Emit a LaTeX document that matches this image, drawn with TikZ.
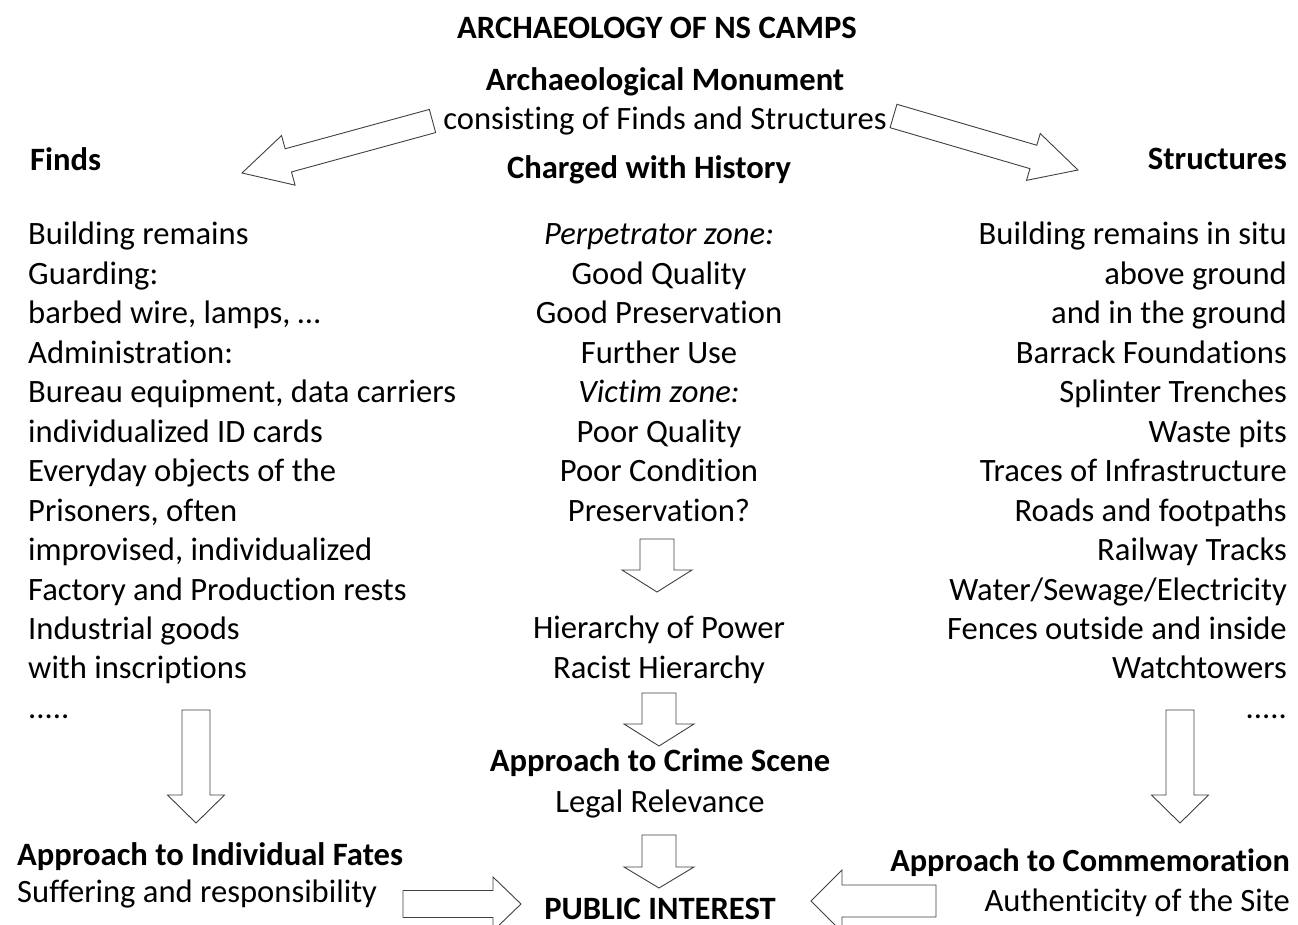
\documentclass[tikz,border=0pt]{standalone}
\usepackage{fontspec}
\setmainfont{Carlito}[Ligatures={NoCommon,NoRare,NoContextual}]
\usetikzlibrary{calc}

\tikzset{
  body/.style={font=\fontsize{32.6}{39}\selectfont, inner sep=0pt},
  head/.style={font=\fontsize{32.6}{39}\selectfont\bfseries, inner sep=0pt},
  blockline/.style={draw=black!75, fill=white, line width=0.9pt, line join=miter}
}

% block arrow: from, to, half shaft, half head, head length
\newcommand{\blockarrow}[5]{%
  \coordinate (hb) at ($(#2)!#5!(#1)$);
  \draw[blockline] ($(#1)!#3!90:(#2)$) -- ($(hb)!#3!90:(#2)$) -- ($(hb)!#4!90:(#2)$)
    -- (#2) -- ($(hb)!#4!-90:(#2)$) -- ($(hb)!#3!-90:(#2)$) -- ($(#1)!#3!-90:(#2)$) -- cycle;}

\begin{document}
\begin{tikzpicture}[x=1pt,y=-1pt]
  \useasboundingbox (0,0) rectangle (1298,925);

  % top
  \node[head, anchor=base] (title) at (657,39) {ARCHAEOLOGY OF NS CAMPS};
  \node[head, anchor=base] (monument) at (665,91) {Archaeological Monument};
  \node[body, anchor=base] (consist) at (665,130) {consisting of Finds and Structures};
  \node[head, anchor=base] (charged) at (649,179) {Charged with History};
  \node[head, anchor=base west] (finds) at (30,171) {Finds};
  \node[head, anchor=base east] (structs) at (1287,170) {Structures};

  % left column
  \foreach \txt [count=\i from 0] in {Building remains, Guarding:, {barbed wire, lamps, …},
      Administration:, {Bureau equipment, data carriers}, individualized ID cards,
      Everyday objects of the, {Prisoners, often}, {improvised, individualized},
      Factory and Production rests, Industrial goods, with inscriptions}
    \node[body, anchor=base west] (fd-\i) at (28,245+39.45*\i) {\txt};
  \node[body, anchor=base west] (fd-dots) at (28,718.4) {.....};

  % middle column
  \foreach \txt [count=\i from 0] in {\textit{Perpetrator zone:}, Good Quality, Good Preservation,
      Further Use, \textit{Victim zone:}, Poor Quality, Poor Condition, Preservation?}
    \node[body, anchor=base] (ctr-\i) at (659,245+39.45*\i) {\txt};
  \node[body, anchor=base] (power) at (659,638.5) {Hierarchy of Power};
  \node[body, anchor=base] (racist) at (659,678) {Racist Hierarchy};
  \node[head, anchor=base] (crime) at (660,771) {Approach to Crime Scene};
  \node[body, anchor=base] (legal) at (660,812) {Legal Relevance};
  \node[head, anchor=base] (public) at (660,919) {PUBLIC INTEREST};

  % right column
  \foreach \txt [count=\i from 0] in {Building remains in situ, above ground, and in the ground,
      Barrack Foundations, Splinter Trenches, Waste pits, Traces of Infrastructure,
      Roads and footpaths, Railway Tracks, Water/Sewage/Electricity,
      Fences outside and inside, Watchtowers}
    \node[body, anchor=base east] (st-\i) at (1287,245+39.45*\i) {\txt};
  \node[body, anchor=base east] (st-dots) at (1287,718.4) {.....};

  % bottom
  \node[head, anchor=base west] (fates) at (17,865) {Approach to Individual Fates};
  \node[body, anchor=base west] (suffer) at (17,902) {Suffering and responsibility};
  \node[head, anchor=base east, font=\fontsize{32.3}{39}\selectfont\bfseries] (commem) at (1290,871) {Approach to Commemoration};
  \node[body, anchor=base east] (authen) at (1290,911) {Authenticity of the Site};

  % arrow ends
  \coordinate (l-s) at (432.5,121);  \coordinate (l-t) at (242,173);
  \coordinate (r-s) at (893.5,116);  \coordinate (r-t) at (1078,170);
  \coordinate (c1-s) at (657,539);   \coordinate (c1-t) at (657,592);
  \coordinate (c2-s) at (659,693);   \coordinate (c2-t) at (659,746);
  \coordinate (c3-s) at (659,835);   \coordinate (c3-t) at (659,888);
  \coordinate (dl-s) at (196,710);   \coordinate (dl-t) at (196,823);
  \coordinate (dr-s) at (1180,710);  \coordinate (dr-t) at (1180,823);
  \coordinate (hl-s) at (403,904);   \coordinate (hl-t) at (521,904);
  \coordinate (hr-s) at (936,901);   \coordinate (hr-t) at (811,901);

  \blockarrow{l-s}{l-t}{12pt}{25.7pt}{48pt}
  \blockarrow{r-s}{r-t}{12.2pt}{24.4pt}{46.5pt}
  \blockarrow{c1-s}{c1-t}{17pt}{35pt}{22pt}
  \blockarrow{c2-s}{c2-t}{17pt}{35pt}{22pt}
  \blockarrow{c3-s}{c3-t}{17pt}{35pt}{21pt}
  \blockarrow{dl-s}{dl-t}{14pt}{28.5pt}{28pt}
  \blockarrow{dr-s}{dr-t}{14pt}{28.5pt}{28pt}
  \blockarrow{hl-s}{hl-t}{13.5pt}{27pt}{28pt}
  \blockarrow{hr-s}{hr-t}{16pt}{31pt}{31pt}
\end{tikzpicture}
\end{document}
